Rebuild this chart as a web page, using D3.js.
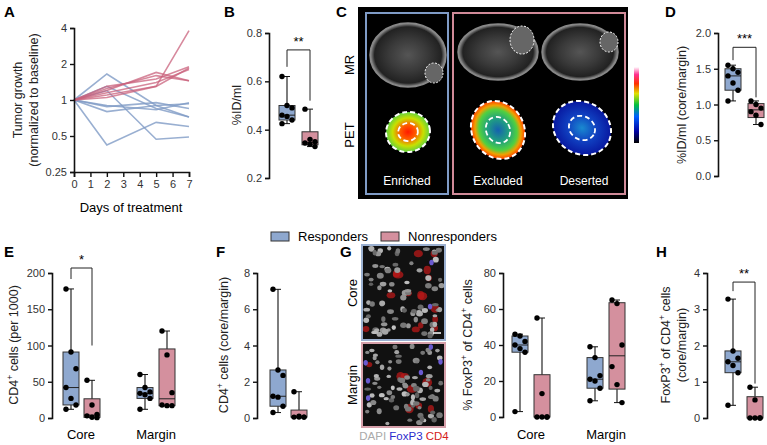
<!DOCTYPE html>
<html><head><meta charset="utf-8">
<script src="https://cdn.jsdelivr.net/npm/d3@7"></script>
<style>body{margin:0;background:#fff}svg{font-family:"Liberation Sans",Arial,sans-serif}</style>
</head><body>
<svg id="fig" width="767" height="445"></svg>
<script>
const RESP = "#8ea8cf", NONR = "#d4909e";
const LINE_R = "#7f9bc6", LINE_N = "#c9627c";

// A: tumor growth
const days = [0, 2, 5, 7];
const respGrowth = [
  [1, 1.65, 0.9, 0.72], [1, 0.42, 0.65, 0.6], [1, 1.2, 0.47, 0.49],
  [1, 0.8, 0.9, 0.93], [1, 0.88, 0.95, 0.85], [1, 1.3, 0.85, 0.72], [1, 0.9, 0.83, 0.95]
];
const nonrGrowth = [
  [1, 1.1, 1.3, 3.8], [1, 1.2, 1.7, 1.45], [1, 1.3, 1.5, 1.9],
  [1, 1.05, 1.3, 1.85], [1, 1.15, 1.4, 1.8], [1, 1.25, 1.6, 1.45]
];
const growthTicks = [0.25, 0.5, 1, 2, 4];

// B: %ID/ml
const bResp = [0.62, 0.5, 0.49, 0.46, 0.455, 0.44, 0.425];
const bNonr = [0.485, 0.36, 0.35, 0.345, 0.34, 0.33];
// D: core/margin
const dResp = [1.55, 1.5, 1.45, 1.4, 1.3, 1.2, 1.05];
const dNonr = [1.05, 1.0, 0.95, 0.9, 0.85, 0.72];
// E: CD4 cells per 1000
const eCoreResp = [178, 91, 68, 42, 27, 18, 12];
const eCoreNonr = [52, 18, 5, 3, 1, 0.5];
const eMargResp = [60, 42, 36, 34, 32, 27, 12];
const eMargNonr = [120, 87, 35, 18, 17, 17];
// F: CD4 core/margin
const fResp = [7.1, 2.65, 2.35, 1.2, 1.15, 0.65, 0.3];
const fNonr = [1.45, 0.1, 0.05, 0.05, 0.05, 0.05];
// G: % FoxP3 of CD4
const gCoreResp = [46, 45, 42, 40, 38, 36, 3];
const gCoreNonr = [55, 13, 0, 0, 0, 0];
const gMargResp = [39, 33, 23, 21, 20, 16, 9];
const gMargNonr = [65, 63, 40, 28, 18, 8];
// H: FoxP3 core/margin
const hResp = [3.28, 1.85, 1.65, 1.55, 1.45, 1.25, 0.35];
const hNonr = [0.85, 0.5, 0, 0, 0, 0];

const svg = d3.select("#fig");

function letter(t, x, y) {
  svg.append("text").attr("x", x).attr("y", y).text(t)
    .attr("font-weight", "bold").attr("font-size", 15);
}
function styleAxis(g) {
  g.select(".domain").attr("stroke", "#111").attr("stroke-width", 1.6);
  g.selectAll(".tick line").attr("stroke", "#111").attr("stroke-width", 1.4);
  g.selectAll(".tick text").attr("font-size", 11).attr("fill", "#333");
}
// parts: strings; a part starting with "^" is a superscript
function yLabel(rows, x, cy, fs = 12.5) {
  const t = svg.append("text").attr("transform", `translate(${x},${cy}) rotate(-90)`)
    .attr("text-anchor", "middle").attr("font-size", fs).attr("fill", "#222");
  rows.forEach((row, i) => {
    const s = t.append("tspan").attr("x", 0).attr("dy", i ? 16 : 0);
    row.forEach(p => {
      if (p[0] === "^") {
        s.append("tspan").attr("font-size", 8.5).attr("baseline-shift", "super").text(p.slice(1));
        s.append("tspan").text(" ");
      } else {
        s.append("tspan").text(p);
      }
    });
  });
}
// quartiles the way Prism does them: position p*(n+1)
function q(s, p) {
  const pos = Math.min(Math.max(p * (s.length + 1), 1), s.length) - 1;
  const lo = Math.floor(pos), hi = Math.ceil(pos);
  return s[lo] + (s[hi] - s[lo]) * (pos - lo);
}
function box(vals, cx, y, fill) {
  const s = vals.slice().sort(d3.ascending);
  const min = s[0], max = s[s.length - 1], q1 = q(s, 0.25), med = q(s, 0.5), q3 = q(s, 0.75);
  const w = 16, g = svg.append("g");
  g.append("line").attr("x1", cx).attr("x2", cx).attr("y1", y(min)).attr("y2", y(max))
    .attr("stroke", "#111").attr("stroke-width", 1.1);
  [min, max].forEach(v => g.append("line").attr("x1", cx - 3).attr("x2", cx + 3)
    .attr("y1", y(v)).attr("y2", y(v)).attr("stroke", "#111"));
  g.append("rect").attr("x", cx - w / 2).attr("width", w).attr("y", y(q3))
    .attr("height", Math.max(1, y(q1) - y(q3))).attr("fill", fill)
    .attr("stroke", "#333").attr("stroke-width", 1);
  g.append("line").attr("x1", cx - w / 2).attr("x2", cx + w / 2).attr("y1", y(med)).attr("y2", y(med))
    .attr("stroke", "#222");
  g.selectAll("circle").data(vals).join("circle")
    .attr("cx", (d, i) => cx + ((i % 3) - 1) * 5).attr("cy", d => y(d)).attr("r", 2.7).attr("fill", "#000");
}
function bracket(x1, x2, yTop, yl, yr, label) {
  svg.append("path").attr("d", `M${x1},${yl}V${yTop}H${x2}V${yr}`)
    .attr("fill", "none").attr("stroke", "#222").attr("stroke-width", 1);
  svg.append("text").attr("x", (x1 + x2) / 2).attr("y", yTop - 4).attr("text-anchor", "middle")
    .attr("font-size", 13).text(label);
}
function yAxis(x, domain, range, ticks, fmt) {
  const y = d3.scaleLinear().domain(domain).range(range);
  svg.append("g").attr("transform", `translate(${x},0)`)
    .call(d3.axisLeft(y).tickValues(ticks).tickSize(4).tickFormat(fmt)).call(styleAxis);
  return y;
}

// ---- A
letter("A", 4, 17);
const ax = d3.scaleLinear().domain([0, 7]).range([74, 189]);
const ay = d3.scaleLog().base(2).domain([0.25, 4]).range([172, 28]);
const line = d3.line().x((d, i) => ax(days[i])).y(d => ay(d));
svg.append("g").selectAll("path").data(respGrowth).join("path").attr("d", line)
  .attr("fill", "none").attr("stroke", LINE_R).attr("stroke-width", 1.6).attr("opacity", 0.8);
svg.append("g").selectAll("path").data(nonrGrowth).join("path").attr("d", line)
  .attr("fill", "none").attr("stroke", LINE_N).attr("stroke-width", 1.6).attr("opacity", 0.75);
svg.append("g").attr("transform", "translate(74,0)")
  .call(d3.axisLeft(ay).tickValues(growthTicks).tickSize(4).tickFormat(d => d)).call(styleAxis);
svg.append("g").attr("transform", "translate(0,172)")
  .call(d3.axisBottom(ax).ticks(7).tickSize(5)).call(styleAxis);
svg.append("text").attr("x", 131).attr("y", 212).attr("text-anchor", "middle").attr("font-size", 13).text("Days of treatment");
yLabel([["Tumor growth"], ["(normalized to baseline)"]], 22, 100);

// ---- B
letter("B", 224, 17);
const by = yAxis(269, [0.2, 0.8], [178, 33], [0.2, 0.4, 0.6, 0.8], d3.format(".1f"));
box(bResp, 287, by, RESP);
box(bNonr, 310, by, NONR);
bracket(287, 310, by(0.73), by(0.66), by(0.52), "**");
yLabel([["%ID/ml"]], 241, 105);

// ---- C
letter("C", 336, 17);
svg.append("rect").attr("x", 358).attr("y", 7).attr("width", 270).attr("height", 192).attr("fill", "#000");
svg.append("rect").attr("x", 366).attr("y", 13).attr("width", 82).attr("height", 181).attr("fill", "none").attr("stroke", "#7f9bc6").attr("stroke-width", 2);
svg.append("rect").attr("x", 453).attr("y", 13).attr("width", 172).attr("height", 181).attr("fill", "none").attr("stroke", "#d08a98").attr("stroke-width", 2);
const defs = svg.append("defs");
function radial(id, stops) {
  const g = defs.append("radialGradient").attr("id", id);
  stops.forEach(s => g.append("stop").attr("offset", s[0]).attr("stop-color", s[1]));
}
radial("pet1", [[0, "#ff1a00"], [0.35, "#ff5a00"], [0.7, "#c8e000"], [1, "#60d040"]]);
radial("pet2", [[0, "#1560b0"], [0.4, "#20a080"], [0.7, "#50d040"], [0.85, "#f0a000"], [1, "#ff4000"]]);
radial("pet3", [[0, "#1a8ad0"], [0.5, "#1040c0"], [1, "#0818a0"]]);
radial("mr", [[0, "#555"], [0.5, "#3a3a3a"], [0.88, "#222"], [1, "#999"]]);
// MR slices
[[408, 55, 38, 32], [498, 52, 40, 28], [580, 52, 38, 28]].forEach(([cx, cy, rx, ry]) =>
  svg.append("ellipse").attr("cx", cx).attr("cy", cy).attr("rx", rx).attr("ry", ry)
    .attr("fill", "url(#mr)").attr("stroke", "#888").attr("stroke-width", 1.5));
[[434, 73, 9, 10], [522, 40, 12, 14], [609, 42, 9, 10]].forEach(([cx, cy, rx, ry]) =>
  svg.append("ellipse").attr("cx", cx).attr("cy", cy).attr("rx", rx).attr("ry", ry)
    .attr("fill", "#666").attr("stroke", "#fff").attr("stroke-dasharray", "2,1.5").attr("stroke-width", 1));
// PET
[[408, 132, 22, 20, "pet1", -10], [498, 130, 26, 30, "pet2", -30], [582, 128, 30, 26, "pet3", 30]].forEach(([cx, cy, rx, ry, f, r]) => {
  svg.append("ellipse").attr("transform", `translate(${cx},${cy}) rotate(${r})`).attr("rx", rx).attr("ry", ry)
    .attr("fill", `url(#${f})`).attr("stroke", "#fff").attr("stroke-width", 2).attr("stroke-dasharray", "5,3");
  svg.append("ellipse").attr("transform", `translate(${cx},${cy}) rotate(${r})`).attr("rx", rx * 0.45).attr("ry", ry * 0.45)
    .attr("fill", "none").attr("stroke", "#fff").attr("stroke-width", 1.8).attr("stroke-dasharray", "5,3");
});
[["Enriched", 407], ["Excluded", 498], ["Deserted", 584]].forEach(([t, x]) =>
  svg.append("text").attr("x", x).attr("y", 185).attr("text-anchor", "middle").attr("fill", "#fff").attr("font-size", 12).text(t));
const cb = defs.append("linearGradient").attr("id", "cbar").attr("x1", 0).attr("x2", 0).attr("y1", 1).attr("y2", 0);
[[0, "#000"], [0.15, "#0000a0"], [0.35, "#0060ff"], [0.5, "#00c040"], [0.65, "#e0e000"], [0.78, "#ff3000"], [0.9, "#ff3090"], [1, "#fff"]]
  .forEach(s => cb.append("stop").attr("offset", s[0]).attr("stop-color", s[1]));
svg.append("rect").attr("x", 634).attr("y", 67).attr("width", 5).attr("height", 76).attr("fill", "url(#cbar)");
svg.append("text").attr("x", 636).attr("y", 64).attr("text-anchor", "middle").attr("fill", "#fff").attr("font-size", 10).text("1");
svg.append("text").attr("x", 636).attr("y", 158).attr("text-anchor", "middle").attr("fill", "#fff").attr("font-size", 10).text("0");
svg.append("text").attr("transform", "translate(648,100) rotate(-90)").attr("text-anchor", "middle").attr("fill", "#fff").attr("font-size", 10).text("%ID/ml");
[["MR", 65], ["PET", 135]].forEach(([t, y]) =>
  svg.append("text").attr("transform", `translate(354,${y}) rotate(-90)`).attr("text-anchor", "middle").attr("font-size", 13).text(t));

// ---- D
letter("D", 665, 17);
const dy = yAxis(718, [0, 2], [176, 33], [0, 0.5, 1, 1.5, 2], d3.format(".1f"));
box(dResp, 733, dy, RESP);
box(dNonr, 756, dy, NONR);
bracket(733, 756, dy(1.8), dy(1.62), dy(1.1), "***");
yLabel([["%ID/ml (core/margin)"]], 686, 105);

// ---- legend
[[RESP, "Responders", 271], [NONR, "Nonresponders", 381]].forEach(([c, t, x]) => {
  svg.append("rect").attr("x", x).attr("y", 232).attr("width", 18).attr("height", 9).attr("fill", c).attr("stroke", "#333");
  svg.append("text").attr("x", x + 27).attr("y", 241).attr("font-size", 13).text(t);
});

// ---- E
letter("E", 4, 257);
const ey = yAxis(52, [0, 200], [418, 273], [0, 50, 100, 150, 200], d3.format("d"));
box(eCoreResp, 71, ey, RESP); box(eCoreNonr, 92, ey, NONR);
box(eMargResp, 145, ey, RESP); box(eMargNonr, 167, ey, NONR);
bracket(71, 92, 268, 279, ey(100), "*");
[["Core", 81], ["Margin", 156]].forEach(([t, x]) => svg.append("text").attr("x", x).attr("y", 439).attr("text-anchor", "middle").attr("font-size", 13).text(t));
yLabel([["CD4", "^+", "cells (per 1000)"]], 18, 345);

// ---- F
letter("F", 216, 257);
const fy = yAxis(257, [0, 8], [418, 273], [0, 2, 4, 6, 8], d3.format("d"));
box(fResp, 278, fy, RESP); box(fNonr, 299, fy, NONR);
yLabel([["CD4", "^+", "cells (core/margin)"]], 228, 345);

// ---- G
letter("G", 340, 257);
let seed = 7;
const rnd = () => (seed = (seed * 16807) % 2147483647) / 2147483647;
function micro(y0, h, stroke, redN, blueN) {
  const g = svg.append("g");
  g.append("rect").attr("x", 362).attr("y", y0).attr("width", 83).attr("height", h).attr("fill", "#111");
  for (let i = 0; i < redN; i++) g.append("ellipse").attr("cx", 366 + rnd() * 75).attr("cy", y0 + 4 + rnd() * (h - 8))
    .attr("rx", 2.5 + rnd() * 3).attr("ry", 2.5 + rnd() * 2.5).attr("fill", "#b81818").attr("opacity", 0.75);
  for (let i = 0; i < 80; i++) g.append("ellipse").attr("cx", 365 + rnd() * 77).attr("cy", y0 + 3 + rnd() * (h - 6))
    .attr("rx", 2 + rnd() * 1.5).attr("ry", 1.6 + rnd() * 1.4).attr("fill", d3.interpolateGreys(0.35 + rnd() * 0.35));
  for (let i = 0; i < blueN; i++) g.append("ellipse").attr("cx", 365 + rnd() * 77).attr("cy", y0 + 3 + rnd() * (h - 6))
    .attr("rx", 2.2).attr("ry", 2.8).attr("fill", "#6a5ad0");
  g.append("rect").attr("x", 362).attr("y", y0).attr("width", 83).attr("height", h).attr("fill", "none").attr("stroke", stroke).attr("stroke-width", 2);
}
micro(245, 95, "#9bb0d0", 16, 2);
micro(343, 84, "#d6a0aa", 8, 6);
svg.append("line").attr("x1", 433).attr("x2", 441).attr("y1", 333).attr("y2", 333).attr("stroke", "#fff").attr("stroke-width", 1.5);
[["Core", 293], ["Margin", 385]].forEach(([t, y]) =>
  svg.append("text").attr("transform", `translate(357,${y}) rotate(-90)`).attr("text-anchor", "middle").attr("font-size", 13).text(t));
const gl = svg.append("text").attr("x", 404).attr("y", 440).attr("text-anchor", "middle").attr("font-size", 11.5);
gl.append("tspan").text("DAPI ").attr("fill", "#aaa");
gl.append("tspan").text("FoxP3 ").attr("fill", "#2a2acc");
gl.append("tspan").text("CD4").attr("fill", "#d42020");
const gy = yAxis(503, [0, 80], [417, 273], [0, 20, 40, 60, 80], d3.format("d"));
box(gCoreResp, 520, gy, RESP); box(gCoreNonr, 542, gy, NONR);
box(gMargResp, 595, gy, RESP); box(gMargNonr, 617, gy, NONR);
[["Core", 531], ["Margin", 606]].forEach(([t, x]) => svg.append("text").attr("x", x).attr("y", 439).attr("text-anchor", "middle").attr("font-size", 13).text(t));
yLabel([["% FoxP3", "^+", "of CD4", "^+", "cells"]], 472, 345);

// ---- H
letter("H", 656, 257);
const hy = yAxis(707, [0, 4], [418, 273], [0, 1, 2, 3, 4], d3.format("d"));
box(hResp, 733, hy, RESP); box(hNonr, 755, hy, NONR);
bracket(733, 755, hy(3.75), hy(3.5), hy(0.95), "**");
yLabel([["FoxP3", "^+", "of CD4", "^+", "cells"], ["(core/margin)"]], 670, 345);
</script>
</body></html>
